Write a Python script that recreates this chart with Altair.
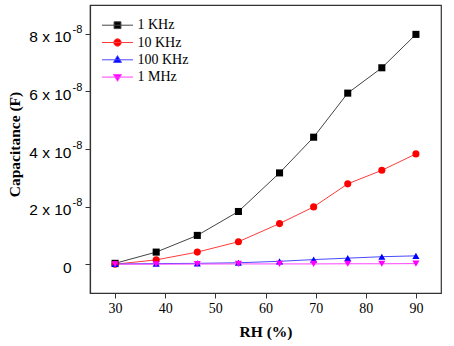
import altair as alt
import pandas as pd

# Data (capacitance in units of 1e-8 F)
rh = [30, 38.2, 46.4, 54.6, 62.8, 69.6, 76.4, 83.2, 90]
c_1khz = [0.03, 0.42, 1.00, 1.83, 3.17, 4.41, 5.94, 6.82, 7.98]
c_10khz = [0.00, 0.15, 0.42, 0.78, 1.41, 1.99, 2.79, 3.26, 3.83]
c_100khz = [0.01, 0.02, 0.03, 0.05, 0.10, 0.16, 0.21, 0.26, 0.29]
c_1mhz = [0.00, 0.00, 0.005, 0.01, 0.01, 0.01, 0.015, 0.015, 0.02]

series_names = ["1 KHz", "10 KHz", "100 KHz", "1 MHz"]
series_values = [c_1khz, c_10khz, c_100khz, c_1mhz]
marker_colors = ["#000000", "#ff0000", "#0000ff", "#ff00ff"]
line_colors = ["#444444", "#ff3b3b", "#4a4aff", "#ff44ff"]
marker_shapes = ["square", "circle", "triangle-up", "triangle-down"]
legend_paths = [
    "M-2.214,0H2.214M-0.487,-0.487H0.487V0.487H-0.487Z",
    "M-2.214,0H2.214M0.531,0A0.531,0.531,0,1,1,-0.531,0A0.531,0.531,0,1,1,0.531,0Z",
    "M-2.214,0H2.214M0,-0.598L0.576,0.376L-0.576,0.376Z",
    "M-2.214,0H2.214M0,0.598L0.576,-0.376L-0.576,-0.376Z",
]

ytick_values = [0, 2, 4, 6, 8]
ytick_main = ["0", "2 x 10", "4 x 10", "6 x 10", "8 x 10"]
ytick_sup = ["", "-8", "-8", "-8", "-8"]
xtick_values = [30, 40, 50, 60, 70, 80, 90]

rows = []
for name, vals in zip(series_names, series_values):
    for x, v in zip(rh, vals):
        rows.append({"RH": x, "C": v, "series": name})
df = pd.DataFrame(rows)

ytick_df = pd.DataFrame({"v": ytick_values, "main": ytick_main, "sup": ytick_sup})

xscale = alt.Scale(domain=[25, 95], nice=False, zero=False)
yscale = alt.Scale(domain=[-1, 9], nice=False, zero=False)

X = alt.X(
    "RH:Q",
    scale=xscale,
    axis=alt.Axis(
        values=xtick_values,
        title="RH (%)",
        grid=False,
        tickSize=5,
        labelPadding=3,
        labelFont="Liberation Serif",
        labelFontSize=14,
        labelColor="#000000",
        titleFont="Liberation Serif",
        titleFontSize=15.5,
        titleFontWeight="bold",
        titleColor="#000000",
        titleBaseline="alphabetic",
        titleY=43,
        domainColor="#333333",
        tickColor="#333333",
        domainWidth=1.2,
    ),
)
Y = alt.Y(
    "C:Q",
    scale=yscale,
    axis=alt.Axis(
        values=ytick_values,
        labels=False,
        title="Capacitance (F)",
        grid=False,
        tickSize=5,
        titleFont="Liberation Serif",
        titleFontSize=15.5,
        titleFontWeight="bold",
        titleColor="#000000",
        titleX=-76,
        titleY=139,
        titleBaseline="middle",
        titleAngle=270,
        domainColor="#333333",
        tickColor="#333333",
        domainWidth=1.2,
    ),
)

base = alt.Chart(df)
layers = []
for name, lc in zip(series_names, line_colors):
    layers.append(
        base.transform_filter(alt.datum.series == name)
        .mark_line(color=lc, strokeWidth=1)
        .encode(x=X, y=Y)
    )
for name, mc, sh in zip(series_names, marker_colors, marker_shapes):
    layers.append(
        base.transform_filter(alt.datum.series == name)
        .mark_point(filled=True, color=mc, shape=sh, size=50, opacity=1, strokeWidth=0)
        .encode(x=X, y=Y)
    )

legend_layer = (
    base.transform_filter("false")
    .mark_point(filled=True, opacity=1, size=196, strokeWidth=1)
    .encode(
        x=X,
        y=Y,
        shape=alt.Shape(
            "series:N",
            scale=alt.Scale(domain=series_names, range=legend_paths),
            legend=alt.Legend(title=None),
        ),
        fill=alt.Fill(
            "series:N",
            scale=alt.Scale(domain=series_names, range=marker_colors),
            legend=alt.Legend(title=None),
        ),
        stroke=alt.Stroke(
            "series:N",
            scale=alt.Scale(domain=series_names, range=line_colors),
            legend=alt.Legend(title=None),
        ),
    )
)
layers.append(legend_layer)

ytext_main = alt.Chart(ytick_df).mark_text(
    align="right", baseline="middle", font="Liberation Sans", fontSize=15.5, dy=3.5, color="#000000"
).encode(y=alt.Y("v:Q", scale=yscale), x=alt.value(-18.5), text="main:N")
ytext_sup = alt.Chart(ytick_df).mark_text(
    align="left", baseline="middle", font="Liberation Sans", fontSize=11, dy=-3.5, color="#000000"
).encode(y=alt.Y("v:Q", scale=yscale), x=alt.value(-17.5), text="sup:N")
layers += [ytext_main, ytext_sup]

chart = (
    alt.layer(*layers)
    .properties(
        width=351,
        height=288,
        padding={"left": 90, "top": 5, "right": 13, "bottom": 53},
        autosize=alt.AutoSizeParams(type="none"),
        background="white",
    )
    .configure_view(stroke="#333333", strokeWidth=1.2)
    .configure_legend(
        orient="none",
        legendX=20,
        legendY=12.7,
        padding=0,
        labelFont="Liberation Serif",
        labelFontSize=14,
        labelColor="#000000",
        labelOffset=12.5,
        symbolSize=196,
        symbolStrokeWidth=1,
        rowPadding=2.3,
    )
)

chart.save("out.html", embed_options={"renderer": "svg", "actions": False})
